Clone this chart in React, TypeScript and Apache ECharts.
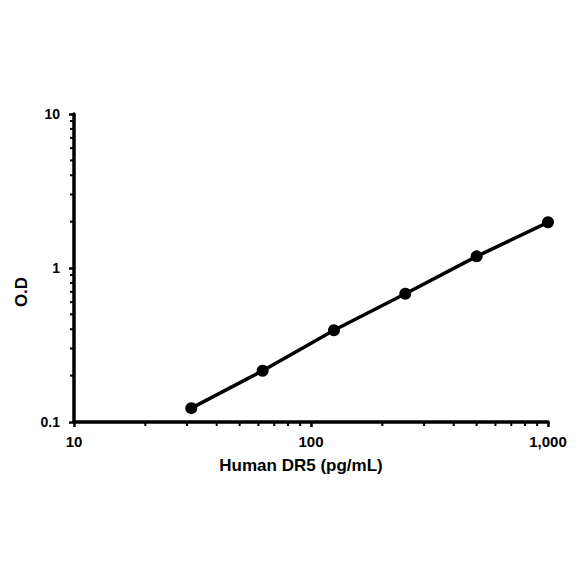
import React, { useEffect, useRef } from 'react';
import * as echarts from 'echarts';

const concentrations = [31.25, 62.5, 125, 250, 500, 1000];
const odValues = [0.123, 0.215, 0.394, 0.681, 1.19, 1.98];

const xMinorTicks = [20, 30, 40, 50, 60, 70, 80, 90, 200, 300, 400, 500, 600, 700, 800, 900];
const yMinorTicks = [0.2, 0.3, 0.4, 0.5, 0.6, 0.7, 0.8, 0.9, 2, 3, 4, 5, 6, 7, 8, 9];

const X_MIN = 10;
const X_MAX = 1000;
const Y_MIN = 0.1;
const Y_MAX = 10;

const FONT = "'Liberation Sans', Arial, sans-serif";

const App: React.FC = () => {
  const chartRef = useRef<HTMLDivElement>(null);

  useEffect(() => {
    if (!chartRef.current) return;
    const chart = echarts.init(chartRef.current, undefined, { renderer: 'svg' });

    const tickStyle = { stroke: '#000', lineWidth: 2 };

    const option = {
      animation: false,
      backgroundColor: '#fff',
      grid: { left: 74, right: 36, top: 114, bottom: 162 },
      xAxis: {
        type: 'log',
        logBase: 10,
        min: X_MIN,
        max: X_MAX,
        name: 'Human DR5 (pg/mL)',
        nameLocation: 'middle',
        nameGap: 35,
        nameTextStyle: {
          fontFamily: FONT,
          fontWeight: 'bold',
          fontSize: 17,
          color: '#000',
          padding: [0, 20, 0, 0]
        },
        axisLine: { lineStyle: { color: '#000', width: 3.5 } },
        axisTick: { length: 5, lineStyle: { color: '#000', width: 2.5 } },
        axisLabel: {
          margin: 12,
          fontFamily: FONT,
          fontWeight: 'bold',
          fontSize: 15,
          color: '#000',
          formatter: (v: number) => Math.round(v).toLocaleString('en-US')
        },
        splitLine: { show: false }
      },
      yAxis: {
        type: 'log',
        logBase: 10,
        min: Y_MIN,
        max: Y_MAX,
        name: 'O.D',
        nameLocation: 'middle',
        nameGap: 38,
        nameTextStyle: {
          fontFamily: FONT,
          fontWeight: 'bold',
          fontSize: 17,
          color: '#000',
          padding: [0, 48, 0, 0]
        },
        axisLine: { lineStyle: { color: '#000', width: 3.5 } },
        axisTick: { length: 5, lineStyle: { color: '#000', width: 2.5 } },
        axisLabel: {
          margin: 14,
          fontFamily: FONT,
          fontWeight: 'bold',
          fontSize: 14,
          color: '#000',
          formatter: (v: number) => String(Number(v.toPrecision(3)))
        },
        splitLine: { show: false }
      },
      series: [
        {
          type: 'custom',
          silent: true,
          clip: false,
          data: xMinorTicks.map((v) => [v, Y_MIN]),
          renderItem: (_params: any, api: any) => {
            const p = api.coord([api.value(0), api.value(1)]);
            return {
              type: 'line',
              shape: { x1: p[0], y1: p[1], x2: p[0], y2: p[1] + 4 },
              style: tickStyle
            };
          }
        },
        {
          type: 'custom',
          silent: true,
          clip: false,
          data: yMinorTicks.map((v) => [X_MIN, v]),
          renderItem: (_params: any, api: any) => {
            const p = api.coord([api.value(0), api.value(1)]);
            return {
              type: 'line',
              shape: { x1: p[0] - 4, y1: p[1], x2: p[0], y2: p[1] },
              style: tickStyle
            };
          }
        },
        {
          type: 'line',
          data: concentrations.map((c, i) => [c, odValues[i]]),
          symbol: 'circle',
          symbolSize: 12,
          lineStyle: { color: '#000', width: 3.5 },
          itemStyle: { color: '#000' }
        }
      ]
    };

    chart.setOption(option);

    return () => {
      chart.dispose();
    };
  }, []);

  return (
    <div
      ref={chartRef}
      style={{ position: 'fixed', left: 0, top: 0, width: 584, height: 584, background: '#fff' }}
    />
  );
};

export default App;
